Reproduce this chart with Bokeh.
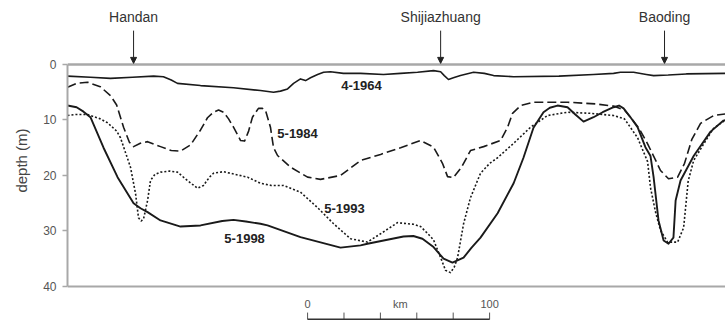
from bokeh.plotting import figure
from bokeh.models import Range1d, FixedTicker, Span, Arrow, NormalHead
from bokeh.core.properties import value
from bokeh.embed import file_html
from bokeh.resources import INLINE

# ---------------- data (distance along profile in km, depth in m) ----------------
x_1964 = [0, 12.6, 23.6, 35.7, 47.3, 52.7, 57, 60.4, 73.1, 91.2, 106, 113.2, 117, 120.9,
          124.2, 128, 130.8, 133.5, 137.4, 140.7, 144.5, 151.6, 161, 173.6, 183, 192.3,
          201.1, 205, 207, 209.3, 212, 215.9, 223.1, 229, 234.1, 245, 270, 289, 300,
          303.8, 311, 318, 322, 330, 340, 361.5]
d_1964 = [2.1, 2.3, 2.5, 2.3, 2.1, 2.2, 2.8, 3.4, 3.8, 4.2, 4.7, 5.0, 4.8, 4.4,
          3.4, 2.6, 2.9, 2.4, 1.8, 1.4, 1.3, 1.6, 1.6, 1.8, 1.6, 1.4,
          1.1, 1.3, 2.0, 2.7, 2.4, 2.0, 1.4, 1.6, 2.0, 2.2, 2.1, 1.8, 1.6,
          1.4, 1.4, 1.8, 2.0, 1.9, 1.7, 1.6]

x_1984 = [0, 5, 11, 18, 23.6, 27, 30.8, 34, 36.3, 40, 44, 51.1, 57, 62.1, 67.6, 73.1,
          76.9, 80.2, 83, 85.7, 88.5, 91.2, 95.1, 97.3, 99.5, 101.6, 104.9, 107.1, 108.8,
          111.5, 113.2, 115.4, 122.5, 131.9, 139, 150, 161, 172, 183, 194, 201.1, 206,
          208.8, 212, 216.5, 221.4, 228.6, 237.9, 241.8, 244.5, 249, 256, 274.7, 290,
          300, 306, 309.3, 314, 318.7, 322, 325.8, 330.2, 335.2, 339, 343, 347.8, 355,
          361.5]
d_1984 = [4.1, 3.4, 3.2, 4.0, 5.6, 7.3, 11.3, 14.0, 14.8, 14.2, 13.9, 14.8, 15.5, 15.6,
          14.5, 11.8, 9.6, 8.6, 8.2, 8.6, 9.8, 11.3, 13.7, 13.8, 12.0, 9.5, 7.9, 7.9, 8.3,
          11.3, 15.0, 16.4, 18.5, 20.3, 20.7, 20.0, 17.3, 16.2, 15.0, 13.7, 14.9, 17.8,
          20.2, 20.4, 18.5, 15.5, 14.8, 13.7, 11.3, 8.8, 7.4, 6.8, 6.8, 7.1, 7.5, 8.2,
          9.5, 11.5, 14.3, 16.5, 19.1, 20.6, 20.3, 17.8, 13.5, 10.6, 9.2, 8.9]

x_1993 = [0, 5, 11, 18, 22, 27, 29.1, 34.6, 37.4, 39, 40.5, 41.8, 44, 45.6, 48, 51.1,
          56, 60.4, 65.9, 71.4, 74.7, 78, 80.2, 85.7, 92, 98.9, 106, 112, 118.7, 128,
          137.4, 146.2, 155.5, 164.8, 172, 181.3, 190.1, 194, 198, 201.1, 205, 207.7,
          210.4, 212.5, 214.3, 217.6, 221.4, 226.9, 232, 236.3, 245.1, 254.4, 263.7,
          274.7, 287.4, 300, 306, 313.2, 318.7, 320.3, 323, 325.8, 329.7, 335.2, 338.5,
          341, 344, 351.6, 355, 361.5]
d_1993 = [9.2, 9.0, 9.0, 9.8, 10.5, 12.0, 13.2, 18.5, 23.3, 27.6, 28.2, 27.8, 24.5,
          20.9, 19.8, 19.4, 19.2, 19.4, 20.9, 22.3, 21.8, 20.3, 19.6, 19.3, 19.8, 20.3,
          21.4, 21.8, 21.8, 23.0, 25.8, 28.7, 31.4, 32.0, 30.5, 28.5, 28.8, 29.2, 30.5,
          31.6, 34.8, 37.1, 37.5, 36.5, 34.8, 28.7, 24.0, 19.6, 17.8, 16.8, 14.2, 11.3,
          9.2, 8.6, 8.8, 9.2, 9.8, 13.2, 17.5, 22.2, 26.5, 29.9, 32.0, 32.0, 29.4, 21.0,
          17.3, 13.2, 11.5, 10.0]

x_1998 = [0, 5, 8.8, 12.6, 19.8, 27.5, 36.3, 40.1, 44, 51.1, 62.1, 73.1, 85, 91.2, 98,
          106, 109.9, 128, 150, 161, 164.8, 184.6, 190, 195, 201.1, 206.6, 211.5, 217.6,
          222, 226.9, 236.3, 245.1, 250.5, 256, 261.5, 265, 269.2, 274.7, 279, 283.5,
          289, 294, 300, 303, 305.5, 309.3, 313.2, 317.5, 320.3, 322, 324.7, 327.5,
          330.2, 332.9, 334.1, 336.8, 344, 353.3, 360.4, 361.5]
d_1998 = [7.4, 7.7, 8.5, 9.5, 15.0, 20.3, 25.0, 25.9, 26.6, 28.1, 29.2, 29.0, 28.2, 28.0,
          28.3, 28.7, 29.0, 31.1, 33.0, 32.6, 32.3, 31.0, 30.9, 31.4, 32.9, 35.0, 35.7,
          34.8, 33.0, 31.2, 26.8, 21.4, 16.8, 11.4, 8.6, 7.8, 7.4, 7.7, 9.0, 10.3, 9.5,
          8.6, 7.7, 7.4, 7.9, 9.5, 11.3, 14.9, 16.5, 20.3, 28.1, 31.7, 32.3, 31.2, 24.5,
          20.9, 16.5, 12.1, 10.1, 10.0]

series_names = ["4-1964", "5-1984", "5-1993", "5-1998"]
depth_ticks = [0, 10, 20, 30, 40]

cities = ["Handan", "Shijiazhuang", "Baoding"]
city_km = [36.3, 205.0, 328.0]

scale_ticks = [0, 20, 40, 60, 80, 100]

# ---------------- figure ----------------
FONT = "Liberation Sans"
p = figure(width=725, height=320, x_range=Range1d(0, 361.5), y_range=Range1d(46.13, -11.53),
           x_axis_type=None, output_backend="svg", toolbar_location=None,
           min_border_left=67, min_border_right=0, min_border_top=0, min_border_bottom=0)
p.outline_line_color = None
p.grid.visible = False
p.background_fill_color = "white"

ax = p.yaxis[0]
ax.bounds = (0, 40)
ax.ticker = FixedTicker(ticks=depth_ticks)
ax.axis_line_color = "#a8a8a8"
ax.axis_line_width = 2
ax.major_tick_line_color = "#a8a8a8"
ax.major_tick_line_width = 1.5
ax.major_tick_out = 5
ax.major_tick_in = 0
ax.minor_tick_line_color = None
ax.major_label_text_font = FONT
ax.major_label_text_font_size = "12px"
ax.major_label_text_color = "#555555"
ax.major_label_standoff = 6
ax.axis_label = "depth (m)"
ax.axis_label_text_font = FONT
ax.axis_label_text_font_style = "normal"
ax.axis_label_text_font_size = "15px"
ax.axis_label_text_color = "#444444"
ax.axis_label_standoff = 10

# top and bottom frame lines
p.add_layout(Span(location=0, dimension="width", line_color="#a8a8a8", line_width=2.5))
p.add_layout(Span(location=40, dimension="width", line_color="#a8a8a8", line_width=2))

# profiles
p.line(x_1964, d_1964, line_color="#1a1a1a", line_width=1.6, line_join="round")
p.line(x_1984, d_1984, line_color="#1a1a1a", line_width=1.6, line_dash="9 4", line_join="round")
p.line(x_1993, d_1993, line_color="#1a1a1a", line_width=1.6, line_dash="2 2", line_join="round")
p.line(x_1998, d_1998, line_color="#1a1a1a", line_width=1.9, line_join="round")

# series labels
lab_x = [161.5, 126.4, 152.2, 97.3]
lab_y = [3.8, 12.4, 25.9, 31.4]
p.text(lab_x, lab_y, text=series_names, text_font=value(FONT), text_font_style="bold",
       text_font_size="13px", text_align="center", text_baseline="middle", text_color="#222222")

# cities with arrows
p.text(city_km, [-8.47] * 3, text=cities, text_font=value(FONT), text_font_size="14px",
       text_align="center", text_baseline="middle", text_color="#333333")
for c in city_km:
    p.add_layout(Arrow(end=NormalHead(size=6, fill_color="#222222", line_color="#222222", line_width=1),
                       x_start=c, y_start=-6.1, x_end=c, y_end=-0.2,
                       line_color="#222222", line_width=1))

# scale bar
sb0 = 131.9
p.segment(x0=[sb0 + t for t in scale_ticks], y0=[44.7] * len(scale_ticks),
          x1=[sb0 + t for t in scale_ticks], y1=[45.95] * len(scale_ticks),
          line_color="#555555", line_width=1)
p.segment(x0=[sb0], y0=[45.95], x1=[sb0 + scale_ticks[-1]], y1=[45.95],
          line_color="#333333", line_width=2)
p.text([sb0, sb0 + 51, sb0 + 100], [43.1, 43.1, 43.1], text=["0", "km", "100"],
       text_font=value(FONT), text_font_size="11px", text_align="center",
       text_baseline="middle", text_color="#555555")

open("out.html", "w").write(file_html(p, INLINE))
